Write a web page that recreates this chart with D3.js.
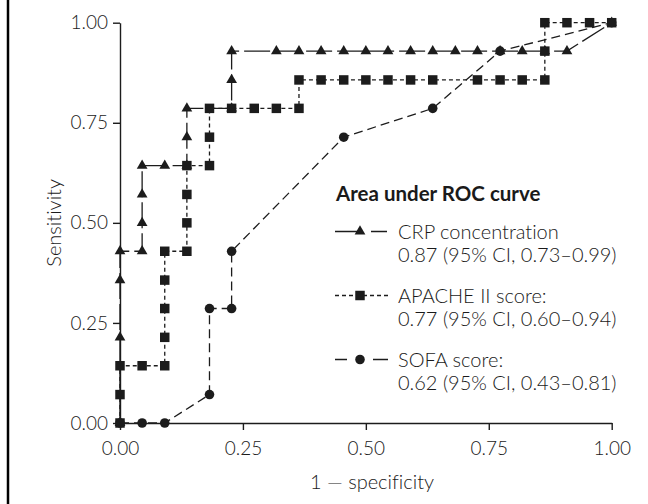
<!DOCTYPE html>
<html>
<head>
<meta charset="utf-8">
<script src="https://cdn.jsdelivr.net/npm/d3@7"></script>
<style>
  body { margin: 0; background: #fff; }
  svg text { font-family: Lato, "Open Sans", sans-serif; fill: #1a1a1a; font-weight: 300; font-variant-ligatures: none; }
</style>
</head>
<body>
<svg id="chart" width="648" height="504"></svg>
<script>
// ROC points (x = 1 - specificity, y = sensitivity)
const crpX = [0, 0, 0, 0, 0.045, 0.045, 0.045, 0.045, 0.091, 0.136, 0.136, 0.136, 0.227, 0.227, 0.227,
  0.318, 0.364, 0.409, 0.455, 0.5, 0.545, 0.591, 0.636, 0.682, 0.727, 0.773, 0.818, 0.864, 0.909, 1];
const crpY = [0, 0.214, 0.357, 0.429, 0.429, 0.5, 0.571, 0.643, 0.643, 0.643, 0.714, 0.786, 0.786, 0.857, 0.929,
  0.929, 0.929, 0.929, 0.929, 0.929, 0.929, 0.929, 0.929, 0.929, 0.929, 0.929, 0.929, 0.929, 0.929, 1];

const apacheX = [0, 0, 0, 0.045, 0.091, 0.091, 0.091, 0.091, 0.091, 0.136, 0.136, 0.136, 0.136, 0.182, 0.182, 0.182,
  0.227, 0.273, 0.318, 0.364, 0.364, 0.409, 0.455, 0.5, 0.545, 0.591, 0.636, 0.727, 0.773, 0.818, 0.864, 0.864, 0.864,
  0.909, 0.955, 1];
const apacheY = [0, 0.071, 0.143, 0.143, 0.143, 0.214, 0.286, 0.357, 0.429, 0.429, 0.5, 0.571, 0.643, 0.643, 0.714, 0.786,
  0.786, 0.786, 0.786, 0.786, 0.857, 0.857, 0.857, 0.857, 0.857, 0.857, 0.857, 0.857, 0.857, 0.857, 0.857, 0.929, 1,
  1, 1, 1];

const sofaX = [0, 0.045, 0.091, 0.182, 0.182, 0.227, 0.227, 0.455, 0.636, 0.773, 1];
const sofaY = [0, 0, 0, 0.071, 0.286, 0.286, 0.429, 0.714, 0.786, 0.929, 1];

const ticks = [0, 0.25, 0.5, 0.75, 1];
const legendTitle = "Area under ROC curve";
const legendLines = [
  ["CRP concentration", "0.87 (95% CI, 0.73\u20130.99)"],
  ["APACHE II score:", "0.77 (95% CI, 0.60\u20130.94)"],
  ["SOFA score:", "0.62 (95% CI, 0.43\u20130.81)"]
];

const ink = "#1c1c1c";
const svg = d3.select("#chart");

// thin frame line on the left edge
svg.append("line")
  .attr("x1", 8).attr("x2", 8).attr("y1", 0).attr("y2", 504)
  .attr("stroke", "#000").attr("stroke-width", 2.5);

const x = d3.scaleLinear().domain([0, 1]).range([120, 611.7]);
const y = d3.scaleLinear().domain([0, 1]).range([423, 22.7]);

// axes
const xAxis = svg.append("g")
  .attr("transform", `translate(0,${y(0)})`)
  .call(d3.axisBottom(x).tickValues(ticks).tickFormat(d3.format(".2f")).tickSize(7).tickSizeOuter(0));
const yAxis = svg.append("g")
  .attr("transform", `translate(${x(0)},0)`)
  .call(d3.axisLeft(y).tickValues(ticks).tickFormat(d3.format(".2f")).tickSize(7).tickSizeOuter(0));

[xAxis, yAxis].forEach(g => {
  g.select(".domain").attr("stroke", ink).attr("stroke-width", 1.4);
  g.selectAll(".tick line").attr("stroke", ink).attr("stroke-width", 1.4);
  g.selectAll(".tick text").style("font-size", "19px").attr("fill", "#1a1a1a");
});
xAxis.selectAll(".tick text").attr("y", 32).attr("dy", 0);
yAxis.selectAll(".tick text").attr("x", -12);

svg.append("text")
  .attr("x", 372).attr("y", 489)
  .attr("text-anchor", "middle")
  .style("font-size", "20px")
  .text("1 \u2014 specificity");

svg.append("text")
  .attr("transform", `translate(61,${y(0.5)}) rotate(-90)`)
  .attr("text-anchor", "middle")
  .style("font-size", "20px")
  .text("Sensitivity");

// series
const series = [
  { xs: crpX, ys: crpY, dash: "26,5", symbol: d3.symbolTriangle, size: 50 },
  { xs: sofaX, ys: sofaY, dash: "9,5", symbol: d3.symbolCircle, size: 72 },
  { xs: apacheX, ys: apacheY, dash: "4,3", symbol: d3.symbolSquare, size: 90 }
];

const line = d3.line().x(d => x(d[0])).y(d => y(d[1]));

series.forEach(s => {
  const pts = s.xs.map((v, i) => [v, s.ys[i]]);
  svg.append("path")
    .datum(pts)
    .attr("d", line)
    .attr("fill", "none")
    .attr("stroke", ink)
    .attr("stroke-width", 1.3)
    .attr("stroke-dasharray", s.dash);
  svg.append("g").selectAll("path")
    .data(pts)
    .join("path")
    .attr("transform", d => `translate(${x(d[0])},${y(d[1])})`)
    .attr("d", d3.symbol(s.symbol, s.size))
    .attr("fill", ink);
});

// legend
svg.append("text")
  .attr("x", 336).attr("y", 201)
  .style("font-size", "20.5px")
  .style("font-weight", "bold")
  .attr("fill", "#1a1a1a")
  .text(legendTitle);

const legendSamples = [
  { dash: "27,9,16", symbol: d3.symbolTriangle, size: 50 },
  { dash: "4,3", symbol: d3.symbolSquare, size: 90 },
  { dash: "12,26,15", symbol: d3.symbolCircle, size: 72 }
];
const rowMid = [231.5, 295.5, 359.5];

legendLines.forEach((lines, i) => {
  const cy = rowMid[i];
  svg.append("line")
    .attr("x1", 335).attr("x2", 388).attr("y1", cy).attr("y2", cy)
    .attr("stroke", ink).attr("stroke-width", 1.3)
    .attr("stroke-dasharray", legendSamples[i].dash);
  svg.append("path")
    .attr("transform", `translate(360,${cy})`)
    .attr("d", d3.symbol(legendSamples[i].symbol, legendSamples[i].size))
    .attr("fill", ink);
  lines.forEach((t, j) => {
    svg.append("text")
      .attr("x", 398).attr("y", cy + 7 + j * 23.5)
      .style("font-size", "20px")
      .text(t);
  });
});
</script>
</body>
</html>
